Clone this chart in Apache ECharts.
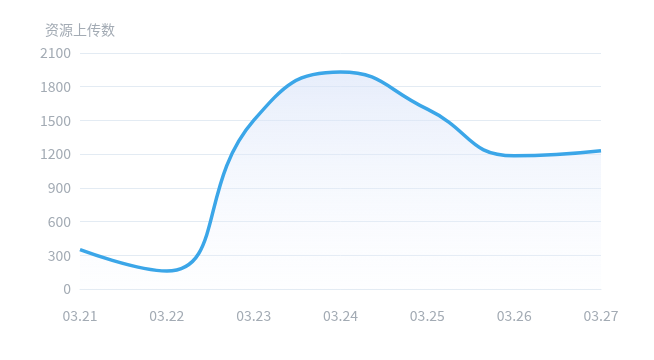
<!DOCTYPE html>
<html><head><meta charset="utf-8">
<script src="https://cdn.jsdelivr.net/npm/echarts@6/dist/echarts.min.js"></script>
<style>html,body{margin:0;padding:0;background:#fff}#c{width:654px;height:360px}</style>
</head><body><div id="c"></div>
<script>
const categories = ['03.21','03.22','03.23','03.24','03.25','03.26','03.27'];
const uploads = [350, 160, 1500, 1930, 1600, 1185, 1230];
const yTicks = {min: 0, max: 2100, interval: 300};
const axisName = '资源上传数';

const chart = echarts.init(document.getElementById('c'));
chart.setOption({
  animation: false,
  grid: {left: 80, right: 53, top: 53, bottom: 71},
  xAxis: {
    type: 'category', data: categories, boundaryGap: false,
    axisLine: {lineStyle: {color: '#e3ebf3'}},
    axisTick: {show: false},
    axisLabel: {color: '#a3abb4', fontSize: 14, margin: 20, fontFamily: 'Noto Sans CJK SC'}
  },
  yAxis: {
    type: 'value', min: yTicks.min, max: yTicks.max, interval: yTicks.interval,
    name: axisName, nameGap: 16,
    nameTextStyle: {color: '#a3abb4', fontSize: 14, fontFamily: 'Noto Sans CJK SC', align: 'center'},
    axisLine: {show: false}, axisTick: {show: false},
    axisLabel: {color: '#a3abb4', fontSize: 14, margin: 9, fontFamily: 'Noto Sans CJK SC', formatter: v => String(v)},
    splitLine: {lineStyle: {color: '#e3ebf3'}}
  },
  series: [{
    type: 'line', data: uploads, smooth: true, symbol: 'none',
    lineStyle: {color: '#3ba6e8', width: 3.5},
    areaStyle: {color: new echarts.graphic.LinearGradient(0, 0, 0, 1, [
      {offset: 0, color: 'rgba(214,225,248,0.85)'},
      {offset: 1, color: 'rgba(240,245,255,0.15)'}
    ])}
  }]
});
</script></body></html>
